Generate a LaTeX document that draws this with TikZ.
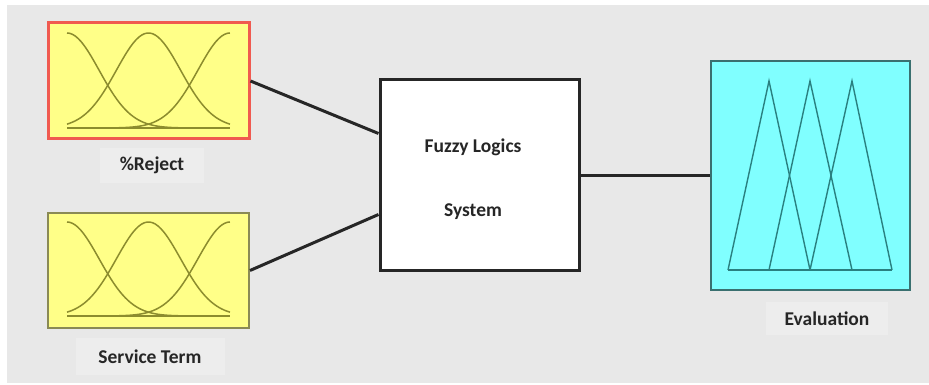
\documentclass[tikz,border=0pt]{standalone}
\usepackage{fontspec}
\setmainfont{Carlito}
\definecolor{bggrey}{HTML}{E8E8E8}
\definecolor{lblgrey}{HTML}{EDEDED}
\definecolor{mfyellow}{HTML}{FFFF88}
\definecolor{mfolive}{HTML}{8C8C2E}
\definecolor{rejred}{HTML}{F05A50}
\definecolor{srvborder}{HTML}{8A8A55}
\definecolor{evcyan}{HTML}{80FFFF}
\definecolor{evborder}{HTML}{3A7070}
\definecolor{evline}{HTML}{2A8080}
\tikzset{
  inbox/.style={draw, fill=mfyellow, minimum width=201pt, minimum height=116pt, inner sep=0pt},
  fisbox/.style={draw=black!85, line width=3pt, fill=white, minimum width=199pt, minimum height=191pt, inner sep=0pt},
  outbox/.style={draw=evborder, line width=2pt, fill=evcyan, minimum width=199pt, minimum height=229pt, inner sep=0pt},
  lbl/.style={fill=lblgrey, inner sep=0pt, font=\fontsize{19.5}{22}\selectfont\bfseries, text=black!85},
  fistext/.style={font=\fontsize{19.5}{22}\selectfont\bfseries, text=black!85, inner sep=0pt},
  conn/.style={draw=black!85, line width=3pt},
  mf/.style={draw=mfolive, line width=1.5pt},
  tri/.style={draw=evline, line width=1.4pt, line join=miter}
}
\begin{document}
\begin{tikzpicture}[x=1pt,y=1pt]
\useasboundingbox (0,0) rectangle (929,385);
\fill[white] (0,0) rectangle (929,385);
\fill[bggrey] (7,2) rectangle (929,380);
% label backgrounds with text
\node[lbl, minimum width=104pt, minimum height=35pt] (lrej) at (152,219.5) {\%Reject};
\node[lbl, minimum width=149pt, minimum height=37pt] (lsrv) at (150,28.5) {Service Term};
\node[lbl, minimum width=122pt, minimum height=33pt] (leval) at (827,66.5) {Evaluation};
% boxes
\node[inbox, draw=rejred, line width=3pt] (rej) at (148.5,304) {};
\node[inbox, draw=srvborder, line width=2pt, minimum height=115pt] (srv) at (148.5,114.5) {};
\node[fisbox] (fls) at (479.5,209.5) {};
\node[outbox] (eval) at (810.5,209.5) {};
\node[fistext] (t1) at (473,238) {Fuzzy Logics};
\node[fistext] (t2) at (473,173) {System};
% connectors
\draw[conn] (rej.east) -- ([yshift=42pt]fls.west);
\draw[conn] (srv.east) -- ([yshift=-39pt]fls.west);
\draw[conn] (fls.east) -- (eval.west);
% gaussian MFs
\foreach \c in {0,1,2}{
  \draw[mf] plot[smooth, domain=0:2, samples=60] ({67+81.5*\x},{257+95*exp(-((\x-\c)^2)/0.312)});
  \draw[mf] plot[smooth, domain=0:2, samples=60] ({67+81.5*\x},{69+94*exp(-((\x-\c)^2)/0.312)});
}
\draw[mf] (67,257) -- (230,257);
\draw[mf] (67,69) -- (230,69);
% triangular MFs, Evaluation
\draw[tri] (728,115) -- (769,304) -- (810,115);
\draw[tri] (769,115) -- (810,304) -- (852,115);
\draw[tri] (810,115) -- (852,304) -- (892,115);
\draw[tri] (728,115) -- (892,115);
\end{tikzpicture}
\end{document}
